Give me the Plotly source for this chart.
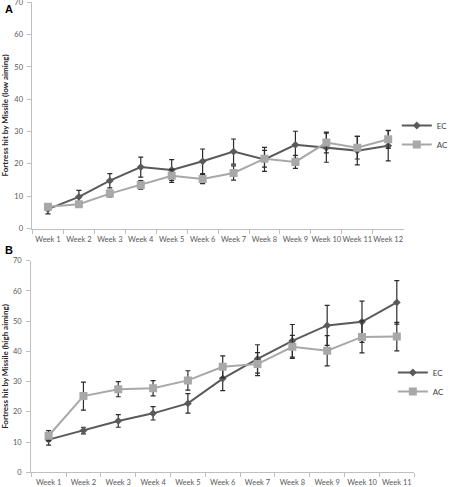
import plotly.graph_objects as go

weeks_a = ["Week 1", "Week 2", "Week 3", "Week 4", "Week 5", "Week 6",
           "Week 7", "Week 8", "Week 9", "Week 10", "Week 11", "Week 12"]
ec_low = [6.0, 9.8, 14.8, 19.0, 18.1, 20.8, 23.8, 21.4, 25.9, 25.0, 24.1, 25.6]
ec_low_err = [1.5, 2.0, 2.2, 3.1, 3.2, 3.8, 3.9, 3.7, 4.2, 4.5, 4.4, 4.7]
ac_low = [6.7, 7.5, 10.8, 13.5, 16.3, 15.3, 17.2, 21.6, 20.6, 26.6, 25.0, 27.6]
ac_low_err = [0.7, 0.5, 1.0, 1.3, 2.0, 1.4, 2.2, 2.6, 2.0, 3.2, 3.5, 2.8]

weeks_b = ["Week 1", "Week 2", "Week 3", "Week 4", "Week 5", "Week 6",
           "Week 7", "Week 8", "Week 9", "Week 10", "Week 11"]
ec_high = [10.8, 13.8, 17.0, 19.5, 22.8, 31.0, 37.5, 43.5, 48.6, 49.8, 56.2]
ec_high_err = [1.8, 1.1, 2.1, 2.2, 3.2, 4.0, 4.7, 5.4, 6.6, 6.8, 7.2]
ac_high = [12.1, 25.2, 27.5, 27.8, 30.4, 34.9, 35.8, 41.5, 40.2, 44.8, 44.9]
ac_high_err = [1.7, 4.6, 2.5, 2.5, 3.2, 3.6, 3.8, 3.8, 5.0, 5.3, 4.7]

EC_COL = "#5a5a5a"
AC_COL = "#a8a8a8"
ERR_COL = "#2b2b2b"
FONT = "Lato, 'Liberation Sans', sans-serif"

fig = go.Figure()

def add(x, y, err, name, col, sym, size, xa, ya, legend):
    fig.add_trace(go.Scatter(
        x=x, y=y, name=name, mode="lines+markers",
        line=dict(color=col, width=2),
        marker=dict(symbol=sym, size=size, color=col),
        error_y=dict(type="data", array=err, visible=True, color=ERR_COL,
                     thickness=1.2, width=2.5),
        xaxis=xa, yaxis=ya, legend=legend))

add(weeks_a, ec_low, ec_low_err, "EC", EC_COL, "diamond", 6, "x", "y", "legend")
add(weeks_a, ac_low, ac_low_err, "AC", AC_COL, "square", 8, "x", "y", "legend")
add(weeks_b, ec_high, ec_high_err, "EC", EC_COL, "diamond", 6, "x2", "y2", "legend2")
add(weeks_b, ac_high, ac_high_err, "AC", AC_COL, "square", 8, "x2", "y2", "legend2")

W, H = 454, 487
axis_common = dict(showgrid=False, zeroline=False, showline=True,
                   linecolor="#bfbfbf", linewidth=1, ticks="outside",
                   tickcolor="#bfbfbf", ticklen=4, automargin=False,
                   ticklabeloverflow="allow",
                   tickfont=dict(family=FONT, size=7.5, color="#595959"))

legend_common = dict(xanchor="left", yanchor="top",
                     bgcolor="rgba(0,0,0,0)", itemwidth=30,
                     font=dict(family=FONT, size=8, color="#404040"),
                     tracegroupgap=0)

fig.update_layout(
    width=W, height=H,
    margin=dict(l=0, r=0, t=0, b=0),
    paper_bgcolor="white", plot_bgcolor="white",
    font=dict(family=FONT),
    xaxis=dict(domain=[33 / W, 410 / W], anchor="y", type="category",
               range=[-0.5, 11.5], tickson="boundaries", tickangle=0,
               ticklabelstandoff=3, **axis_common),
    yaxis=dict(domain=[1 - 228.5 / H, 1 - 2.3 / H], anchor="x",
               range=[0, 70], dtick=10, ticklabelstandoff=3,
               title=dict(text="<b>Fortress hit by Missile (low aiming)</b>",
                          font=dict(family=FONT, size=8, color="#262626"),
                          standoff=11),
               **axis_common),
    xaxis2=dict(domain=[31.7 / W, 420.7 / W], anchor="y2", type="category",
                range=[-0.5, 10.5], tickson="boundaries", tickangle=0,
                ticklabelstandoff=3, **axis_common),
    yaxis2=dict(domain=[1 - 472.3 / H, 1 - 260.7 / H], anchor="x2",
                range=[0, 70], dtick=10, ticklabelstandoff=3,
                title=dict(text="<b>Fortress hit by Missile (high aiming)</b>",
                           font=dict(family=FONT, size=8, color="#262626"),
                           standoff=11),
                **axis_common),
    legend=dict(x=403 / W, y=1 - 111 / H, **legend_common),
    legend2=dict(x=399 / W, y=1 - 358 / H, **legend_common),
    annotations=[
        dict(text="<b>A</b>", x=3 / W, y=1 - 1 / H, xref="paper", yref="paper",
             xanchor="left", yanchor="top", showarrow=False,
             font=dict(family="Liberation Sans, Arial", size=11, color="black")),
        dict(text="<b>B</b>", x=3 / W, y=1 - 242 / H, xref="paper", yref="paper",
             xanchor="left", yanchor="top", showarrow=False,
             font=dict(family="Liberation Sans, Arial", size=11, color="black")),
    ],
    showlegend=True,
)

fig.write_html("out.html",
               config={"displayModeBar": False},
               post_script="document.body.style.margin='0';")
